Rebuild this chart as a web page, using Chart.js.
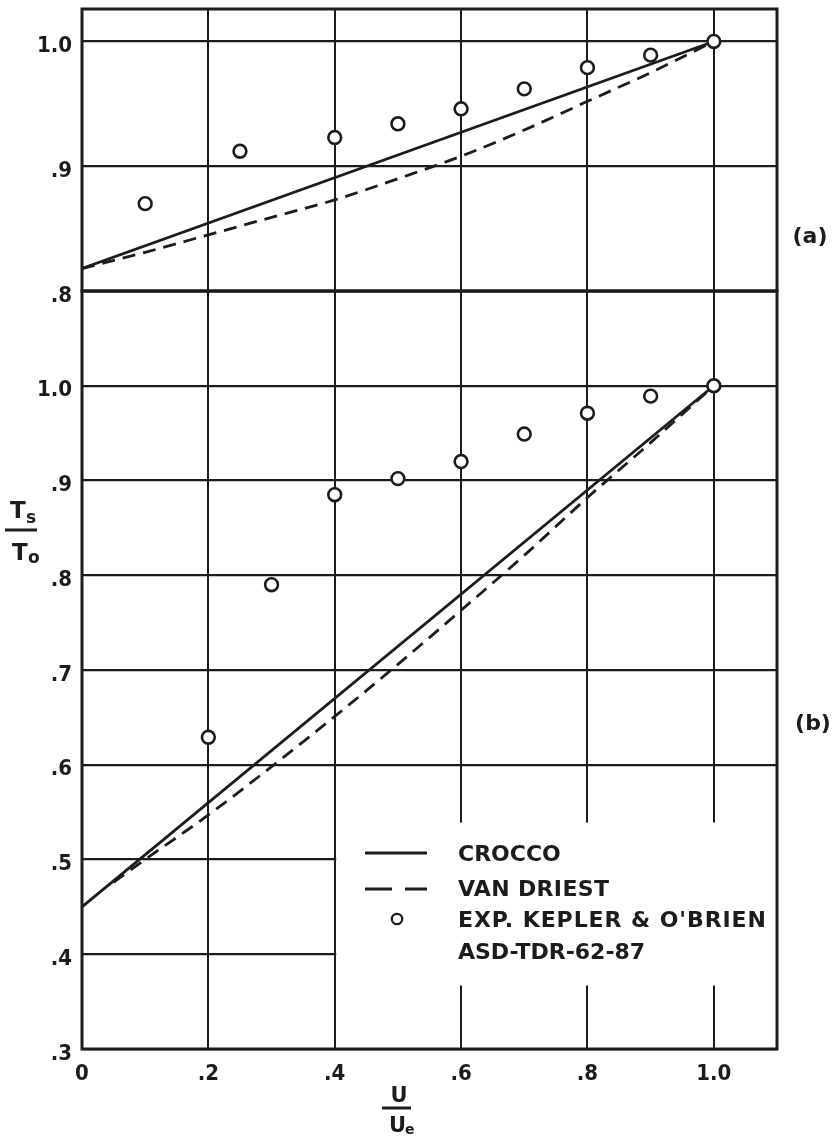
<!DOCTYPE html>
<html>
<head>
<meta charset="utf-8">
<script src="https://cdn.jsdelivr.net/npm/chart.js@4/dist/chart.umd.min.js"></script>
<style>
html,body{margin:0;padding:0;background:#fff;}
#wrap{position:relative;width:834px;height:1140px;overflow:hidden;background:#fff;}
canvas{position:absolute;left:0;top:0;}
</style>
</head>
<body>
<div id="wrap">
<canvas id="cb" width="834" height="1140"></canvas>
<canvas id="ca" width="834" height="340"></canvas>
</div>
<script>
// ---------- data ----------
const xTicks = [0, 0.2, 0.4, 0.6, 0.8, 1.0];
const xTickLabels = ['0', '.2', '.4', '.6', '.8', '1.0'];
const yTicksA = [0.8, 0.9, 1.0];
const yTickLabelsA = ['.8', '.9', '1.0'];
const yTicksB = [0.3, 0.4, 0.5, 0.6, 0.7, 0.8, 0.9, 1.0];
const yTickLabelsB = ['.3', '.4', '.5', '.6', '.7', '.8', '.9', '1.0'];

const croccoX = [0, 1.0];
const croccoA = [0.818, 1.0];
const croccoB = [0.45, 1.0];

const vanDriestXA = [0, 0.1, 0.2, 0.3, 0.4, 0.5, 0.6, 0.7, 0.8, 0.9, 1.0];
const vanDriestA  = [0.818, 0.831, 0.845, 0.859, 0.873, 0.890, 0.908, 0.929, 0.952, 0.975, 1.0];
const vanDriestXB = [0.05, 0.1, 0.2, 0.3, 0.4, 0.5, 0.6, 0.7, 0.8, 0.9, 1.0];
const vanDriestB  = [0.476, 0.500, 0.547, 0.598, 0.651, 0.706, 0.763, 0.821, 0.882, 0.940, 1.0];

const expXA = [0.1, 0.25, 0.4, 0.5, 0.6, 0.7, 0.8, 0.9, 1.0];
const expA  = [0.870, 0.912, 0.923, 0.934, 0.946, 0.962, 0.979, 0.989, 1.0];
const expXB = [0.2, 0.3, 0.4, 0.5, 0.6, 0.7, 0.8, 0.9, 1.0];
const expB  = [0.629, 0.790, 0.885, 0.902, 0.920, 0.949, 0.971, 0.989, 1.0];

const legendLabels = ['CROCCO', 'VAN DRIEST', "EXP. KEPLER & O'BRIEN", 'ASD-TDR-62-87'];

// ---------- styles ----------
const INK = '#1c1c1c';
const FONT = '"DejaVu Sans", "Liberation Sans", sans-serif';
const TICKFONT = '"DejaVu Sans Condensed", "DejaVu Sans", sans-serif';

function pts(xs, ys) { return xs.map((x, i) => ({x: x, y: ys[i]})); }

function datasets(cx, cy, vx, vy, ex, ey) {
  return [
    {label: 'exp', data: pts(ex, ey), showLine: false, pointRadius: 6.4, pointBorderWidth: 2.6,
     pointBackgroundColor: '#fff', pointBorderColor: INK, order: 0},
    {label: 'crocco', data: pts(cx, cy), showLine: true, borderColor: INK, borderWidth: 2.8,
     pointRadius: 0, order: 2},
    {label: 'vandriest', data: pts(vx, vy), showLine: true, borderColor: INK, borderWidth: 2.8,
     borderDash: [13, 8], pointRadius: 0, cubicInterpolationMode: 'monotone', order: 1}
  ];
}

function scales(yMin, yMax, yTicks, yLabels, showX, xHeight) {
  return {
    x: {
      type: 'linear', min: 0, max: 1.1,
      afterBuildTicks: s => { s.ticks = xTicks.map(v => ({value: v})); },
      grid: {color: INK, lineWidth: 2, drawTicks: false},
      border: {display: false},
      ticks: {display: showX, callback: (v, i) => xTickLabels[i], color: INK,
              font: {family: TICKFONT, size: 22, weight: 'bold'}, padding: 12,
              maxRotation: 0, autoSkip: false},
      afterFit: s => { s.height = xHeight; s.paddingLeft = 0; s.paddingRight = 0; }
    },
    y: {
      type: 'linear', min: yMin, max: yMax,
      afterBuildTicks: s => { s.ticks = yTicks.map(v => ({value: v})); },
      grid: {color: INK, lineWidth: 2.2, drawTicks: false},
      border: {display: false},
      ticks: {callback: (v, i) => yLabels[i], color: INK,
              font: {family: TICKFONT, size: 22, weight: 'bold'}, padding: 10, labelOffset: 5,
              autoSkip: false},
      afterFit: s => { s.width = 82; s.paddingTop = 0; s.paddingBottom = 0; }
    }
  };
}

const framePlugin = {
  id: 'frame',
  beforeDatasetsDraw(chart, args, opts) {
    const ctx = chart.ctx, a = chart.chartArea, sx = chart.scales.x, sy = chart.scales.y;
    ctx.save();
    if (opts && opts.blank) {
      const x0 = sx.getPixelForValue(opts.blank.x0) + 1.5;
      const yTop = sy.getPixelForValue(opts.blank.y1);
      const yBot = sy.getPixelForValue(opts.blank.y0);
      ctx.fillStyle = '#fff';
      ctx.fillRect(x0, yTop, a.right - x0, yBot - yTop);
    }
    ctx.strokeStyle = INK;
    ctx.lineWidth = 3;
    ctx.strokeRect(a.left, a.top, a.right - a.left, a.bottom - a.top);
    ctx.restore();
  }
};

function txt(ctx, s, x, y, size, align, width) {
  ctx.font = 'bold ' + size + 'px ' + FONT;
  ctx.textAlign = align || 'left';
  ctx.textBaseline = 'alphabetic';
  if (width && 'letterSpacing' in ctx) {
    ctx.letterSpacing = '0px';
    const w = ctx.measureText(s).width;
    const sp = Math.max(0, (width - w) / Math.max(1, s.length - 1));
    ctx.letterSpacing = sp.toFixed(2) + 'px';
  }
  ctx.fillText(s, x, y);
  if ('letterSpacing' in ctx) ctx.letterSpacing = '0px';
}

const decoPlugin = {
  id: 'deco',
  afterDraw(chart, args, opts) {
    const ctx = chart.ctx;
    ctx.save();
    ctx.fillStyle = INK;
    ctx.strokeStyle = INK;
    if (opts.panel === 'a') {
      txt(ctx, '(a)', 810, 243, 22, 'center');
    } else {
      txt(ctx, '(b)', 813, 730, 22, 'center');
      // legend
      ctx.lineWidth = 2.8;
      ctx.beginPath(); ctx.moveTo(365, 853); ctx.lineTo(427, 853); ctx.stroke();
      ctx.setLineDash([27, 13]);
      ctx.beginPath(); ctx.moveTo(365, 889); ctx.lineTo(427, 889); ctx.stroke();
      ctx.setLineDash([]);
      ctx.lineWidth = 2.3;
      ctx.beginPath(); ctx.arc(397, 919, 5.2, 0, Math.PI * 2); ctx.stroke();
      const base = [861, 896, 927, 959];
      const widths = [101, 151, 308, 0];
      legendLabels.forEach((l, i) => txt(ctx, l, 458, base[i], 22, 'left', widths[i]));
      // y axis title  Ts / To
      txt(ctx, 'T', 10, 518, 23);
      txt(ctx, 's', 26, 523, 17);
      ctx.lineWidth = 3;
      ctx.beginPath(); ctx.moveTo(5, 530); ctx.lineTo(37, 530); ctx.stroke();
      txt(ctx, 'T', 12, 560, 23);
      txt(ctx, 'o', 28, 563, 17);
      // x axis title  U / Ue
      txt(ctx, 'U', 399, 1102, 21, 'center');
      ctx.beginPath(); ctx.moveTo(382, 1108); ctx.lineTo(411, 1108); ctx.stroke();
      txt(ctx, 'U', 389, 1132, 21);
      txt(ctx, 'e', 405, 1134, 14);
    }
    ctx.restore();
  }
};

const common = {
  responsive: false, animation: false, devicePixelRatio: 1, events: []
};

new Chart(document.getElementById('ca'), {
  type: 'scatter',
  data: {datasets: datasets(croccoX, croccoA, vanDriestXA, vanDriestA, expXA, expA)},
  options: Object.assign({}, common, {
    layout: {padding: {left: 0, right: 57, top: 6, bottom: 49}},
    scales: scales(0.8, 1.026, yTicksA, yTickLabelsA, false, 0),
    plugins: {legend: {display: false}, tooltip: {enabled: false},
              frame: {}, deco: {panel: 'a'}}
  }),
  plugins: [framePlugin, decoPlugin]
});

new Chart(document.getElementById('cb'), {
  type: 'scatter',
  data: {datasets: datasets(croccoX, croccoB, vanDriestXB, vanDriestB, expXB, expB)},
  options: Object.assign({}, common, {
    layout: {padding: {left: 0, right: 57, top: 291, bottom: 0}},
    scales: scales(0.3, 1.1, yTicksB, yTickLabelsB, true, 91),
    plugins: {legend: {display: false}, tooltip: {enabled: false},
              frame: {blank: {x0: 0.4, y0: 0.367, y1: 0.539}}, deco: {panel: 'b'}}
  }),
  plugins: [framePlugin, decoPlugin]
});
</script>
</body>
</html>
